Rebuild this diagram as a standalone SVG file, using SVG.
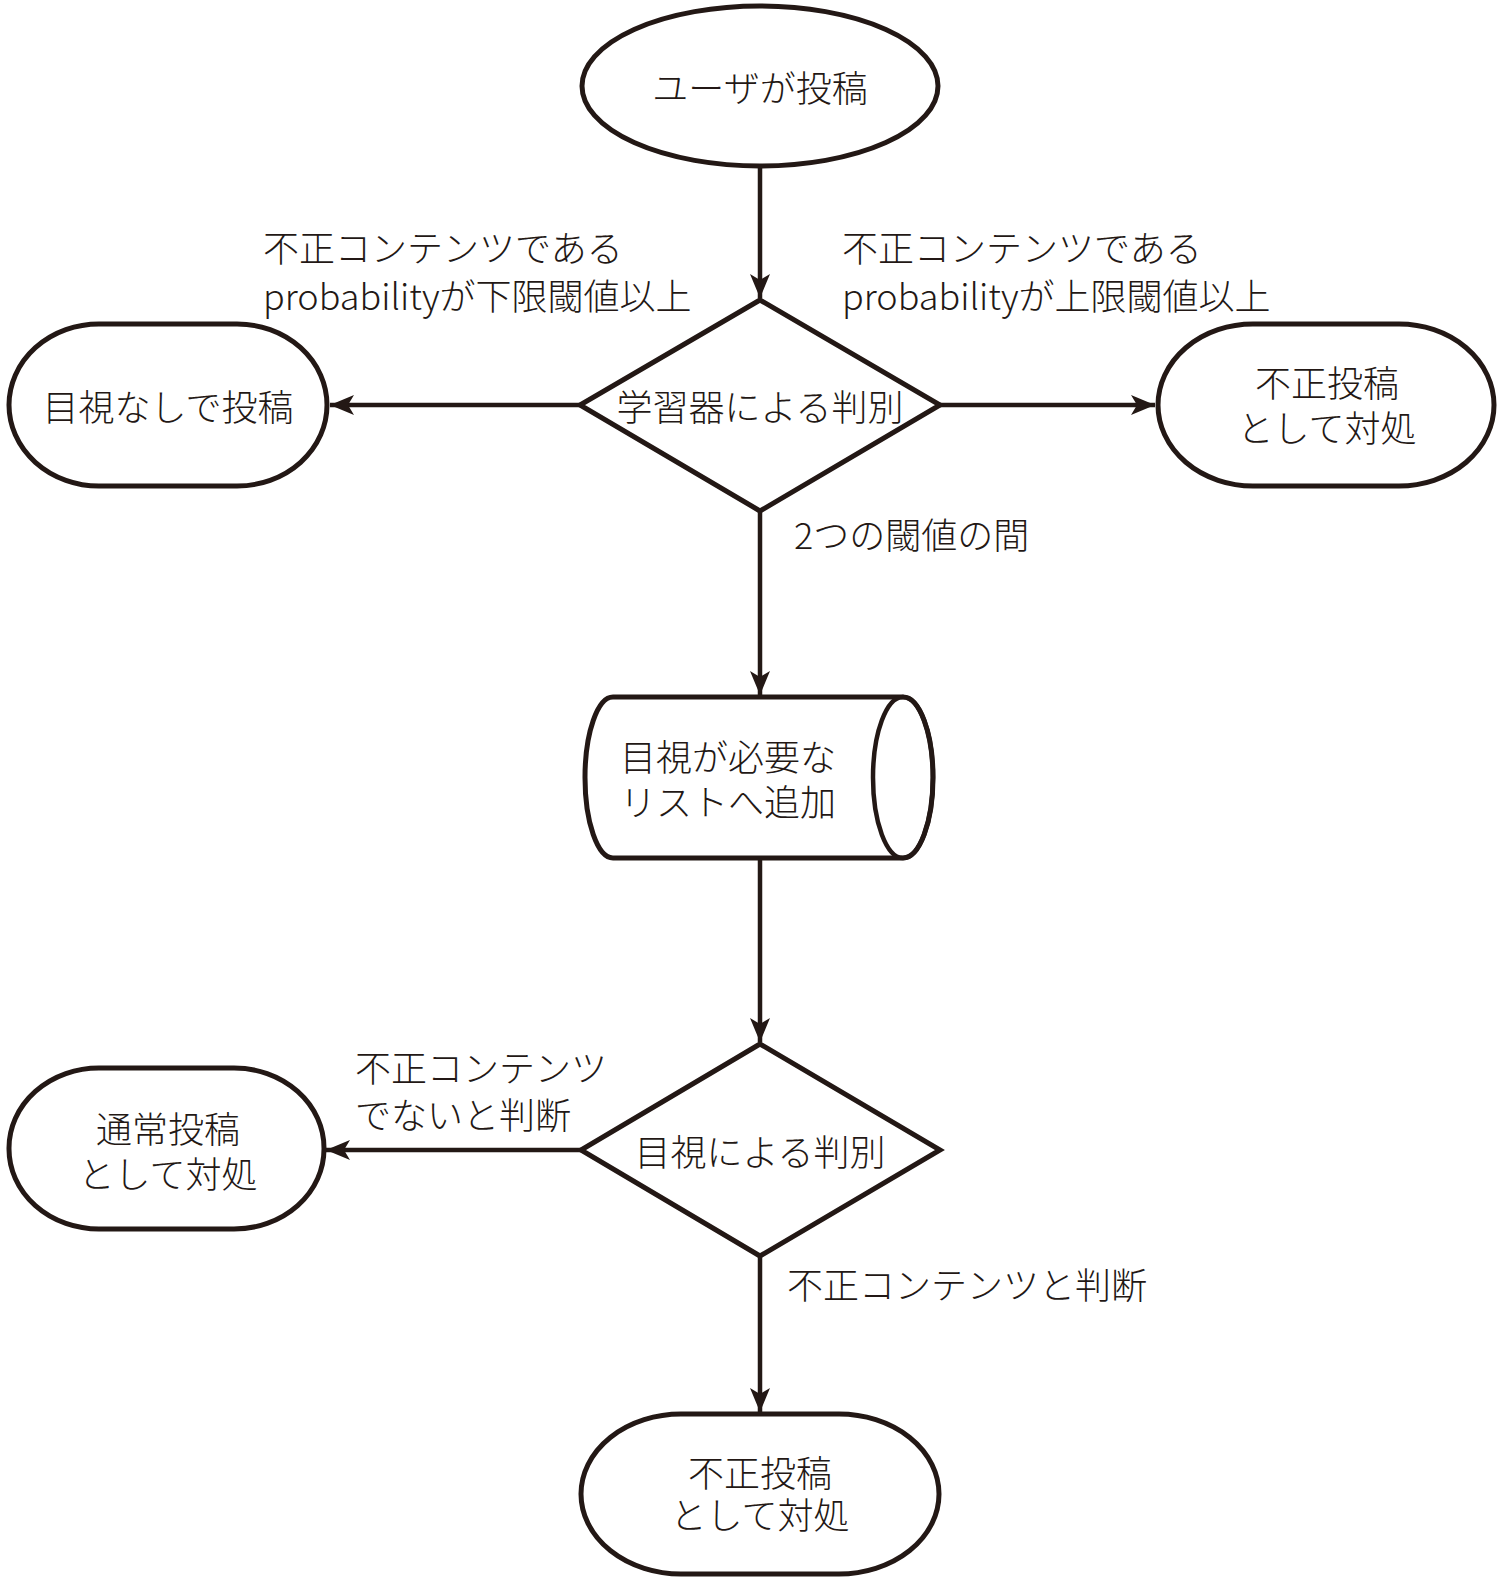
<svg xmlns="http://www.w3.org/2000/svg" width="1500" height="1577" viewBox="0 0 1500 1577">
<style>
.s{fill:#fff;stroke:#231815;stroke-width:5}
.c{fill:none;stroke:#231815;stroke-width:4.5}
text{font-family:"Noto Sans CJK JP","Noto Sans",sans-serif;font-size:36px;font-weight:300;fill:#231815;dominant-baseline:central}
.m{text-anchor:middle}
</style>
<defs>
<marker id="ah" markerUnits="userSpaceOnUse" markerWidth="26" markerHeight="22" refX="24" refY="10" orient="auto">
<path d="M0,0 L24,10 L0,20 L6,10 Z" fill="#231815"/>
</marker>
</defs>
<rect width="1500" height="1577" fill="#fff"/>
<g id="connectors">
<line class="c" x1="760" y1="166" x2="760" y2="298" marker-end="url(#ah)"/>
<line class="c" x1="580" y1="405" x2="330" y2="405" marker-end="url(#ah)"/>
<line class="c" x1="940" y1="405" x2="1155" y2="405" marker-end="url(#ah)"/>
<line class="c" x1="760" y1="511" x2="760" y2="695" marker-end="url(#ah)"/>
<line class="c" x1="760" y1="858" x2="760" y2="1042" marker-end="url(#ah)"/>
<line class="c" x1="581" y1="1150" x2="326" y2="1150" marker-end="url(#ah)"/>
<line class="c" x1="760" y1="1256" x2="760" y2="1412" marker-end="url(#ah)"/>
</g>
<g id="labels">
<text x="263"><tspan x="263" y="246">不正コンテンツである</tspan><tspan x="263" y="294">probabilityが下限閾値以上</tspan></text>
<text x="842"><tspan x="842" y="246">不正コンテンツである</tspan><tspan x="842" y="294">probabilityが上限閾値以上</tspan></text>
<text x="794" y="533">2つの閾値の間</text>
<text x="355"><tspan x="355" y="1066">不正コンテンツ</tspan><tspan x="355" y="1113">でないと判断</tspan></text>
<text x="787" y="1283">不正コンテンツと判断</text>
</g>
<g id="start">
<ellipse class="s" cx="760" cy="86" rx="178" ry="80"/>
<text class="m" x="760" y="86">ユーザが投稿</text>
</g>
<g id="decision1">
<polygon class="s" points="760,300 940,405 760,511 580,405"/>
<text class="m" x="760" y="405">学習器による判別</text>
</g>
<g id="post-no-review">
<rect class="s" x="9" y="324" width="318" height="162" rx="90" ry="81"/>
<text class="m" x="168" y="405">目視なしで投稿</text>
</g>
<g id="fraud1">
<rect class="s" x="1158" y="324" width="336" height="162" rx="95" ry="81"/>
<text class="m" x="1327"><tspan x="1327" y="381">不正投稿</tspan><tspan x="1327" y="426">として対処</tspan></text>
</g>
<g id="review-list">
<path class="s" d="M613,697 L903,697 A30,80.5 0 0 1 903,858 L613,858 A28,80.5 0 0 1 613,697 Z"/>
<ellipse class="c" cx="903" cy="777.5" rx="30" ry="80.5" stroke-width="5"/>
<text class="m" x="728"><tspan x="728" y="755">目視が必要な</tspan><tspan x="728" y="800">リストへ追加</tspan></text>
</g>
<g id="decision2">
<polygon class="s" points="760,1044 940,1150 760,1256 581,1150"/>
<text class="m" x="760" y="1150">目視による判別</text>
</g>
<g id="normal-post">
<rect class="s" x="9" y="1068" width="315" height="161" rx="90" ry="80"/>
<text class="m" x="168"><tspan x="168" y="1127">通常投稿</tspan><tspan x="168" y="1172">として対処</tspan></text>
</g>
<g id="fraud2">
<rect class="s" x="581" y="1414" width="358" height="160" rx="100" ry="80"/>
<text class="m" x="760"><tspan x="760" y="1471">不正投稿</tspan><tspan x="760" y="1513">として対処</tspan></text>
</g>
</svg>
